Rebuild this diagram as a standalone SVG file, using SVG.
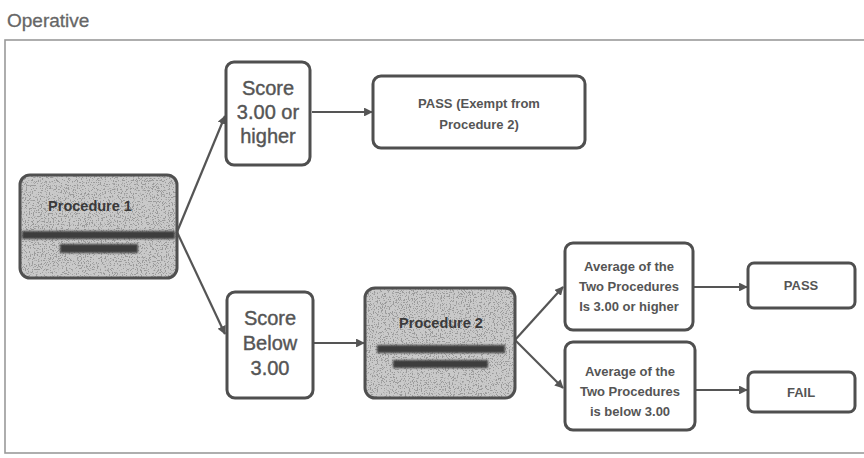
<svg xmlns="http://www.w3.org/2000/svg" width="864" height="458" viewBox="0 0 864 458">
<defs>
<style>
.box{fill:#fff;stroke:#4f4f4f;stroke-width:3}
.shade{fill:#c9c9c9}
.speck{fill:#000;filter:url(#speckle)}
.sborder{fill:none;stroke:#505050;stroke-width:3}
.big{font-family:"Liberation Sans",Arial,sans-serif;font-size:20px;fill:#555;stroke:#555;stroke-width:0.4;text-anchor:middle}
.sm{font-family:"Liberation Sans",Arial,sans-serif;font-size:13px;font-weight:bold;fill:#555;text-anchor:middle}
.hd{font-family:"Liberation Sans",Arial,sans-serif;font-size:14.5px;font-weight:bold;fill:#3a3a3a;text-anchor:middle}
.bar{fill:#3c3c3c;filter:url(#soft)}
.conn line{stroke:#555;stroke-width:2.2;marker-end:url(#ah)}
</style>
<filter id="speckle" x="0" y="0" width="1" height="1">
<feTurbulence type="fractalNoise" baseFrequency="0.75" numOctaves="2" seed="4" result="n"/>
<feColorMatrix in="n" type="matrix" values="0 0 0 0 0.32  0 0 0 0 0.32  0 0 0 0 0.32  12 0 0 0 -6.6"/>
<feComposite in2="SourceGraphic" operator="in"/>
</filter>
<filter id="soft" x="-10%" y="-50%" width="120%" height="200%">
<feGaussianBlur stdDeviation="1.1"/>
</filter>
<marker id="ah" viewBox="0 0 10 10" refX="9" refY="5" markerWidth="4" markerHeight="4" orient="auto" markerUnits="strokeWidth">
<path d="M0,0 L10,5 L0,10 z" fill="#555"/>
</marker>
</defs>
<rect width="864" height="458" fill="#fff"/>
<text x="7" y="27" font-family="Liberation Sans,Arial,sans-serif" font-size="19" fill="#666" stroke="#666" stroke-width="0.3">Operative</text>
<rect x="5" y="40" width="880" height="413" fill="none" stroke="#9a9a9a" stroke-width="1.6"/>

<g id="connectors" class="conn">
<line x1="177" y1="232" x2="225" y2="116"/>
<line x1="177" y1="232" x2="225" y2="334"/>
<line x1="312" y1="112" x2="372" y2="112"/>
<line x1="313" y1="343" x2="364" y2="343"/>
<line x1="515" y1="340" x2="563" y2="287"/>
<line x1="515" y1="340" x2="563" y2="388"/>
<line x1="694" y1="287" x2="747" y2="287"/>
<line x1="696" y1="390" x2="747" y2="390"/>
</g>

<g id="proc1">
<rect class="shade" x="20" y="175" width="157" height="103" rx="10"/>
<rect class="speck" x="20" y="175" width="157" height="103" rx="10"/>
<rect class="sborder" x="20" y="175" width="157" height="103" rx="10"/>
<text class="hd" x="90" y="211">Procedure 1</text>
<rect class="bar" x="22" y="231" width="153" height="8"/>
<rect class="bar" x="60" y="244" width="78" height="9"/>
</g>

<g id="score-high">
<rect class="box" x="226" y="62" width="84" height="103" rx="8"/>
<text class="big" x="268" y="95">Score</text>
<text class="big" x="268" y="119">3.00 or</text>
<text class="big" x="268" y="143">higher</text>
</g>

<g id="pass-exempt">
<rect class="box" x="373" y="76" width="212" height="72" rx="8"/>
<text class="sm" x="479" y="108">PASS (Exempt from</text>
<text class="sm" x="479" y="129">Procedure 2)</text>
</g>

<g id="score-below">
<rect class="box" x="227" y="292" width="86" height="106" rx="8"/>
<text class="big" x="270" y="325">Score</text>
<text class="big" x="270" y="350">Below</text>
<text class="big" x="270" y="375">3.00</text>
</g>

<g id="proc2">
<rect class="shade" x="365" y="288" width="150" height="110" rx="10"/>
<rect class="speck" x="365" y="288" width="150" height="110" rx="10"/>
<rect class="sborder" x="365" y="288" width="150" height="110" rx="10"/>
<text class="hd" x="441" y="328">Procedure 2</text>
<rect class="bar" x="377" y="345" width="128" height="8"/>
<rect class="bar" x="393" y="360" width="95" height="8"/>
</g>

<g id="avg-high">
<rect class="box" x="565" y="243" width="128" height="87" rx="8"/>
<text class="sm" x="629" y="271">Average of the</text>
<text class="sm" x="629" y="291">Two Procedures</text>
<text class="sm" x="629" y="311">Is 3.00 or higher</text>
</g>

<g id="avg-low">
<rect class="box" x="565" y="342" width="130" height="88" rx="8"/>
<text class="sm" x="630" y="376">Average of the</text>
<text class="sm" x="630" y="396">Two Procedures</text>
<text class="sm" x="630" y="416">is below 3.00</text>
</g>

<g id="pass">
<rect class="box" x="748" y="263" width="107" height="45" rx="6"/>
<text class="sm" x="801" y="290">PASS</text>
</g>

<g id="fail">
<rect class="box" x="748" y="372" width="107" height="40" rx="6"/>
<text class="sm" x="801" y="397">FAIL</text>
</g>
</svg>
